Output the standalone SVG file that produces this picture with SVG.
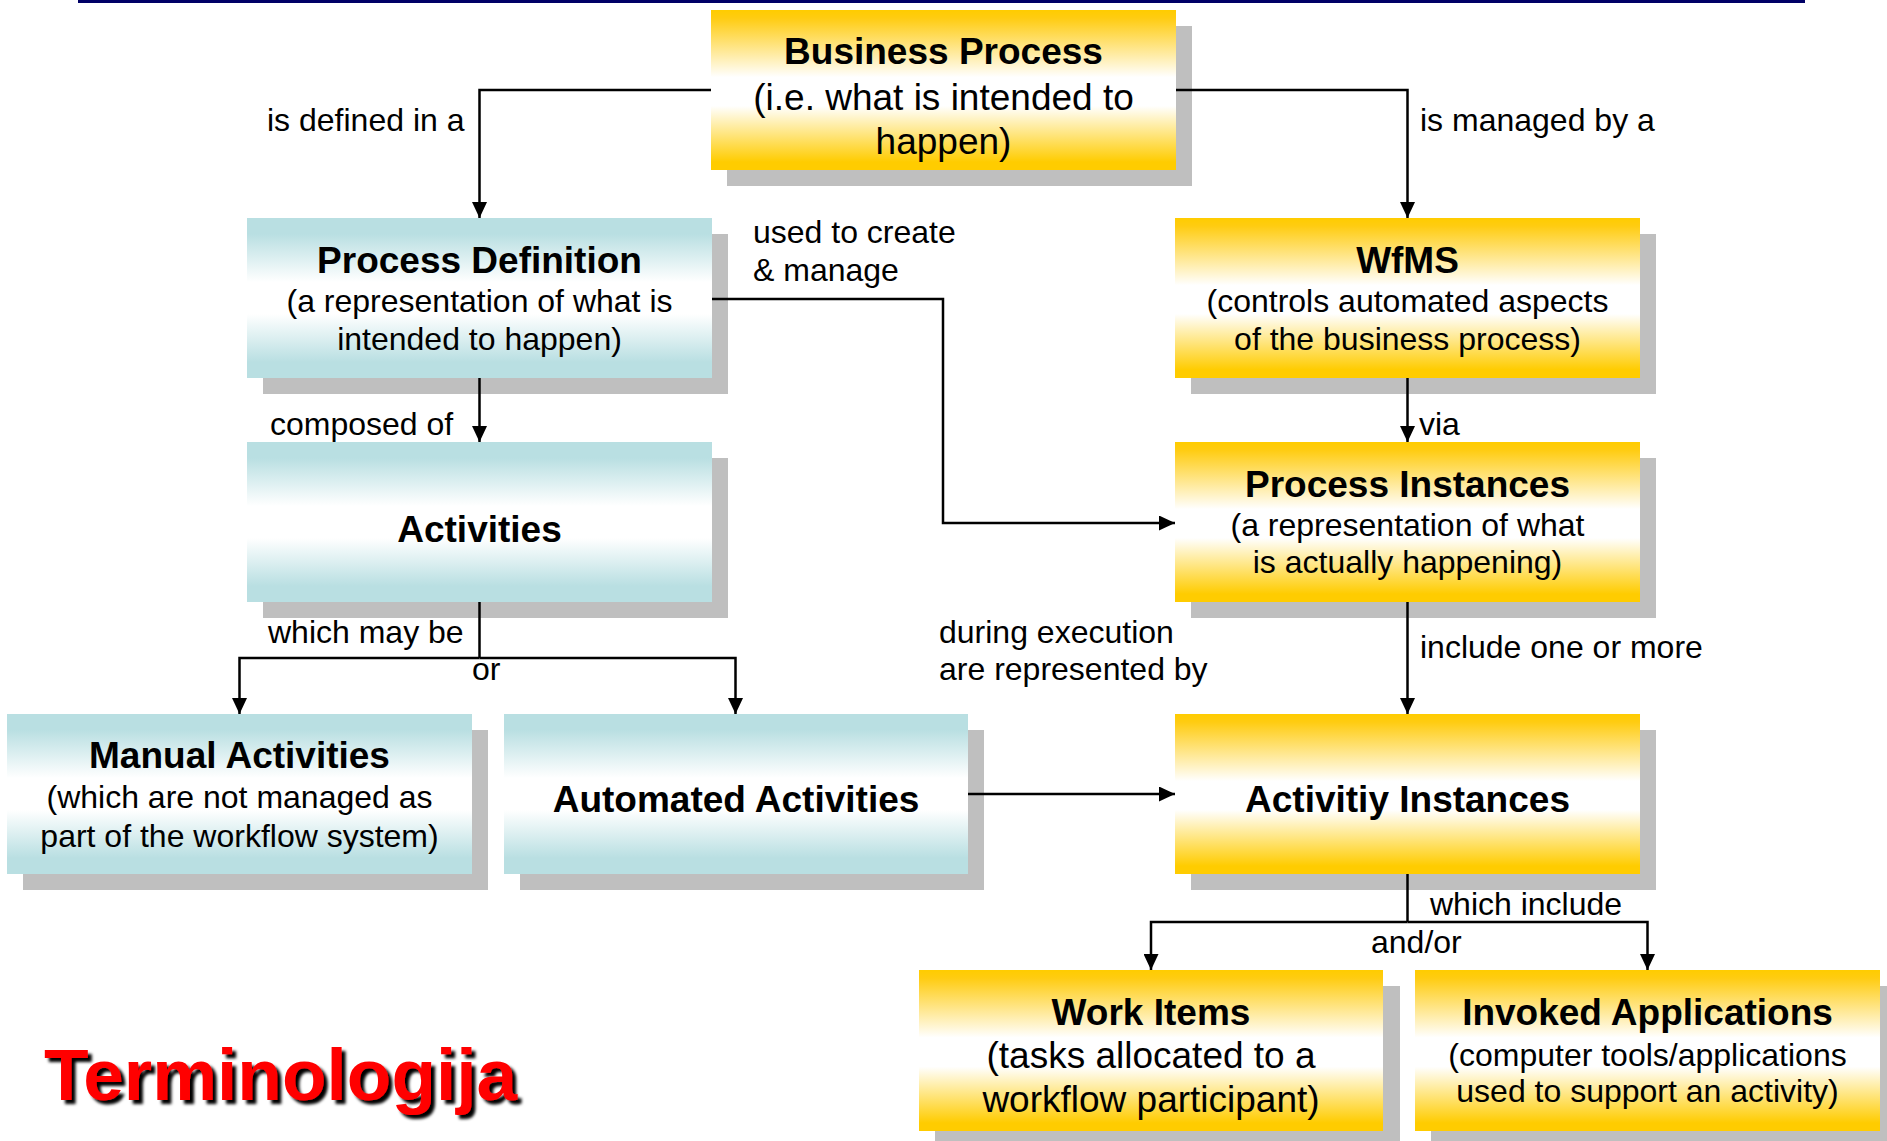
<svg xmlns="http://www.w3.org/2000/svg" width="1887" height="1141" viewBox="0 0 1887 1141">
<defs>
<linearGradient id="gold" x1="0" y1="0" x2="0" y2="1">
<stop offset="0" stop-color="#FFCC00"/>
<stop offset="0.05" stop-color="#FFCC11"/>
<stop offset="0.42" stop-color="#FFFFFF"/>
<stop offset="0.6" stop-color="#FFFFFF"/>
<stop offset="0.95" stop-color="#FFCC00"/>
<stop offset="1" stop-color="#FFCC00"/>
</linearGradient>
<linearGradient id="teal" x1="0" y1="0" x2="0" y2="1">
<stop offset="0" stop-color="#B9DFE2"/>
<stop offset="0.1" stop-color="#B9DFE2"/>
<stop offset="0.4" stop-color="#FFFFFF"/>
<stop offset="0.6" stop-color="#FFFFFF"/>
<stop offset="0.9" stop-color="#B9DFE2"/>
<stop offset="1" stop-color="#B9DFE2"/>
</linearGradient>
<marker id="arr" markerUnits="userSpaceOnUse" markerWidth="16" markerHeight="15" refX="16" refY="7.5" orient="auto">
<path d="M0,0 L16,7.5 L0,15 Z" fill="#000"/>
</marker>
<filter id="dshadow" x="-5%" y="-20%" width="115%" height="150%">
<feGaussianBlur in="SourceAlpha" stdDeviation="1.5" result="b"/>
<feOffset in="b" dx="4" dy="4" result="o"/>
<feFlood flood-color="#000"/>
<feComposite in2="o" operator="in" result="s"/>
<feMerge><feMergeNode in="s"/><feMergeNode in="SourceGraphic"/></feMerge>
</filter>
</defs>
<style>
.sh{fill:#BFBFBF}
.g{fill:url(#gold)}
.t{fill:url(#teal)}
text{font-family:"Liberation Sans",Arial,sans-serif;fill:#000}
.ti{font-size:37px;font-weight:bold;text-anchor:middle}
.st{font-size:32px;text-anchor:middle}
.sl{font-size:37px;text-anchor:middle}
.lb{font-size:32px}
.ln{fill:none;stroke:#000;stroke-width:2.5}
</style>
<rect x="78" y="0" width="1727" height="3" fill="#000066"/>

<g id="business-process">
<rect class="sh" x="727" y="26" width="465" height="160"/>
<rect class="g" x="711" y="10" width="465" height="160"/>
<text class="ti" x="943.5" y="64">Business Process</text>
<text class="sl" x="943.5" y="110">(i.e. what is intended to</text>
<text class="sl" x="943.5" y="154">happen)</text>
</g>

<g id="process-definition">
<rect class="sh" x="263" y="234" width="465" height="160"/>
<rect class="t" x="247" y="218" width="465" height="160"/>
<text class="ti" x="479.5" y="273">Process Definition</text>
<text class="st" x="479.5" y="312">(a representation of what is</text>
<text class="st" x="479.5" y="350">intended to happen)</text>
</g>

<g id="wfms">
<rect class="sh" x="1191" y="234" width="465" height="160"/>
<rect class="g" x="1175" y="218" width="465" height="160"/>
<text class="ti" x="1407.5" y="273">WfMS</text>
<text class="st" x="1407.5" y="312">(controls automated aspects</text>
<text class="st" x="1407.5" y="350">of the business process)</text>
</g>

<g id="activities">
<rect class="sh" x="263" y="458" width="465" height="160"/>
<rect class="t" x="247" y="442" width="465" height="160"/>
<text class="ti" x="479.5" y="542">Activities</text>
</g>

<g id="process-instances">
<rect class="sh" x="1191" y="458" width="465" height="160"/>
<rect class="g" x="1175" y="442" width="465" height="160"/>
<text class="ti" x="1407.5" y="497">Process Instances</text>
<text class="st" x="1407.5" y="536">(a representation of what</text>
<text class="st" x="1407.5" y="573">is actually happening)</text>
</g>

<g id="manual-activities">
<rect class="sh" x="23" y="730" width="465" height="160"/>
<rect class="t" x="7" y="714" width="465" height="160"/>
<text class="ti" x="239.5" y="768">Manual Activities</text>
<text class="st" x="239.5" y="808">(which are not managed as</text>
<text class="st" x="239.5" y="847">part of the workflow system)</text>
</g>

<g id="automated-activities">
<rect class="sh" x="520" y="730" width="464" height="160"/>
<rect class="t" x="504" y="714" width="464" height="160"/>
<text class="ti" x="736" y="812">Automated Activities</text>
</g>

<g id="activity-instances">
<rect class="sh" x="1191" y="730" width="465" height="160"/>
<rect class="g" x="1175" y="714" width="465" height="160"/>
<text class="ti" x="1407.5" y="812">Activitiy Instances</text>
</g>

<g id="work-items">
<rect class="sh" x="935" y="986" width="465" height="160"/>
<rect class="g" x="919" y="970" width="464" height="161"/>
<text class="ti" x="1151" y="1025">Work Items</text>
<text class="sl" x="1151" y="1068">(tasks allocated to a</text>
<text class="sl" x="1151" y="1112">workflow participant)</text>
</g>

<g id="invoked-applications">
<rect class="sh" x="1431" y="986" width="465" height="160"/>
<rect class="g" x="1415" y="970" width="465" height="161"/>
<text class="ti" x="1647.5" y="1025">Invoked Applications</text>
<text class="st" x="1647.5" y="1066">(computer tools/applications</text>
<text class="st" x="1647.5" y="1102">used to support an activity)</text>
</g>

<g id="connectors">
<path class="ln" d="M711,90 H479.5 V218" marker-end="url(#arr)"/>
<path class="ln" d="M1176,90 H1407.5 V218" marker-end="url(#arr)"/>
<path class="ln" d="M479.5,378 V442" marker-end="url(#arr)"/>
<path class="ln" d="M1407.5,378 V442" marker-end="url(#arr)"/>
<path class="ln" d="M712,299 H943 V523 H1175" marker-end="url(#arr)"/>
<path class="ln" d="M479.5,602 V658"/>
<path class="ln" d="M479.5,658 H239.5 V714" marker-end="url(#arr)"/>
<path class="ln" d="M479.5,658 H735.5 V714" marker-end="url(#arr)"/>
<path class="ln" d="M1407.5,602 V714" marker-end="url(#arr)"/>
<path class="ln" d="M968,794 H1175" marker-end="url(#arr)"/>
<path class="ln" d="M1407.5,874 V922"/>
<path class="ln" d="M1407.5,922 H1151 V970" marker-end="url(#arr)"/>
<path class="ln" d="M1407.5,922 H1647.5 V970" marker-end="url(#arr)"/>
<text class="lb" x="267" y="131">is defined in a</text>
<text class="lb" x="1420" y="131">is managed by a</text>
<text class="lb" x="753" y="243">used to create</text>
<text class="lb" x="753" y="281">&amp; manage</text>
<text class="lb" x="270" y="435">composed of</text>
<text class="lb" x="1419" y="435">via</text>
<text class="lb" x="268" y="643">which may be</text>
<text class="lb" x="472" y="680">or</text>
<text class="lb" x="939" y="643">during execution</text>
<text class="lb" x="939" y="680">are represented by</text>
<text class="lb" x="1420" y="658">include one or more</text>
<text class="lb" x="1430" y="915">which include</text>
<text class="lb" x="1371" y="953">and/or</text>
</g>

<text x="44" y="1100" font-size="73" font-weight="bold" filter="url(#dshadow)" style="fill:#FF0000">Terminologija</text>
</svg>
